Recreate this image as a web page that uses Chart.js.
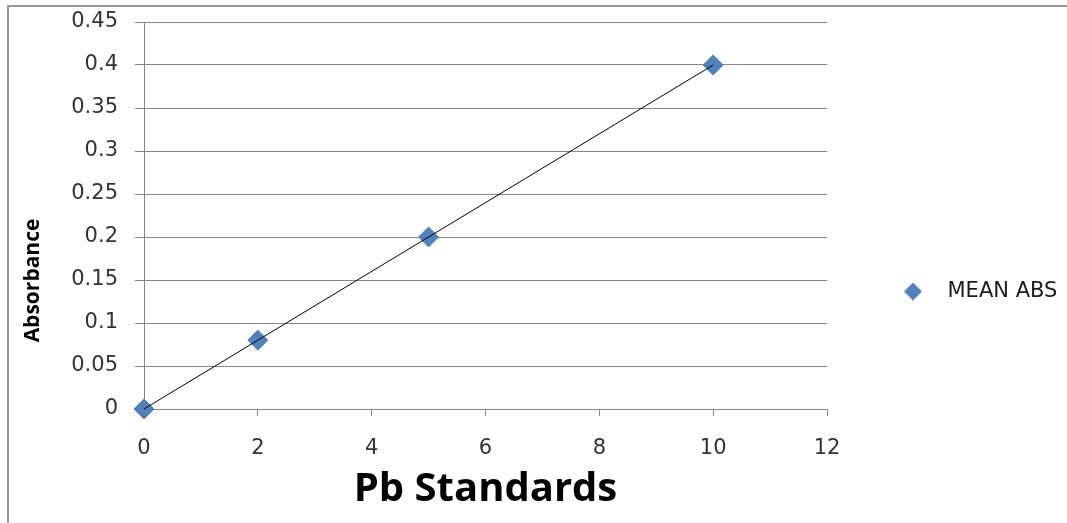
<!DOCTYPE html>
<html><head><meta charset="utf-8">
<script src="https://cdn.jsdelivr.net/npm/chart.js@4.4.1/dist/chart.umd.min.js"></script>
<style>
html,body{margin:0;padding:0;background:#fff;overflow:hidden;}
#wrap{position:relative;width:1067px;height:523px;}
#frame{position:absolute;left:7px;top:5px;width:1100px;height:600px;border:2px solid #9a9a9a;pointer-events:none;box-sizing:border-box;}
canvas{position:absolute;left:0;top:0;}
</style></head><body>
<div id="wrap"><canvas id="c" width="1067" height="523"></canvas><div id="frame"></div></div>
<script>
const pbStandards = [0, 2, 5, 10];
const meanAbs = [0, 0.08, 0.2, 0.4];
const seriesName = 'MEAN ABS';
const xTickLabels = ['0', '2', '4', '6', '8', '10', '12'];
const yTickLabels = ['0', '0.05', '0.1', '0.15', '0.2', '0.25', '0.3', '0.35', '0.4', '0.45'];
const xTitle = 'Pb Standards';
const yTitle = 'Absorbance';

// linear trendline (least squares) derived from the series
const n = pbStandards.length;
const sx = pbStandards.reduce((a, v) => a + v, 0);
const sy = meanAbs.reduce((a, v) => a + v, 0);
const sxx = pbStandards.reduce((a, v) => a + v * v, 0);
const sxy = pbStandards.reduce((a, v, i) => a + v * meanAbs[i], 0);
const slope = (n * sxy - sx * sy) / (n * sxx - sx * sx);
const intercept = (sy - slope * sx) / n;
const xMin = Math.min(...pbStandards), xMax = Math.max(...pbStandards);
const trend = [xMin, xMax].map(x => ({x: x, y: slope * x + intercept}));

const points = pbStandards.map((x, i) => ({x: x, y: meanAbs[i]}));

const markerColor = '#4F81BD';
const gridGray = '#878787';
const tickFont = "'DejaVu Sans', sans-serif";
Chart.defaults.font.family = "'Open Sans', sans-serif";

// legend symbol: same diamond as the series marker
function diamondSymbol(size, color) {
  const cv = document.createElement('canvas');
  cv.width = size; cv.height = size;
  const g = cv.getContext('2d');
  g.fillStyle = color;
  g.beginPath();
  g.moveTo(size / 2, 0); g.lineTo(size, size / 2); g.lineTo(size / 2, size); g.lineTo(0, size / 2);
  g.closePath(); g.fill();
  return cv;
}
const legendSymbol = diamondSymbol(18, markerColor);

// give the right-hand legend a fixed box width (the layout otherwise caps it)
const legendBoxWidth = 240;
const legendWidthPlugin = {
  id: 'legendWidth',
  beforeLayout(chart) {
    const lg = chart.legend;
    if (lg && !lg._fixedWidth) {
      const fit = lg.fit.bind(lg);
      lg.fit = function () { fit(); this.width = legendBoxWidth; };
      lg._fixedWidth = true;
    }
  }
};

new Chart(document.getElementById('c'), {
  type: 'scatter',
  data: {
    datasets: [
      {
        label: seriesName,
        data: points,
        pointStyle: 'rectRot',
        pointRadius: 10,
        pointHoverRadius: 10,
        backgroundColor: markerColor,
        borderColor: markerColor,
        borderWidth: 1,
        clip: false,
        order: 1
      },
      {
        label: 'trend',
        type: 'line',
        data: trend,
        borderColor: '#000000',
        borderWidth: 1,
        pointRadius: 0,
        fill: false,
        clip: false,
        order: 0
      }
    ]
  },
  plugins: [legendWidthPlugin],
  options: {
    responsive: false,
    animation: false,
    layout: {padding: {left: 8, top: 22, right: 0, bottom: -16}},
    plugins: {
      tooltip: {enabled: false},
      title: {
        display: true,
        text: yTitle,
        position: 'left',
        color: '#000000',
        font: {size: 21, weight: 'bold'},
        padding: {top: 12, bottom: 2.8}
      },
      legend: {
        position: 'right',
        align: 'center',
        title: {display: true, text: '', font: {size: 10}, padding: 5},
        labels: {
          usePointStyle: true,
          pointStyleWidth: 48,
          boxHeight: 13,
          padding: 62,
          color: '#1a1a1a',
          font: {size: 21, family: tickFont},
          filter: item => item.datasetIndex === 0,
          generateLabels: c => Chart.defaults.plugins.legend.labels.generateLabels(c)
            .map(it => Object.assign(it, {pointStyle: legendSymbol}))
        }
      }
    },
    scales: {
      x: {
        type: 'linear',
        min: 0,
        max: 12,
        afterFit: s => { s.height = 130; },
        ticks: {
          stepSize: 2,
          padding: 20,
          color: '#333333',
          font: {size: 21, family: tickFont},
          callback: (v, i) => xTickLabels[i]
        },
        grid: {drawOnChartArea: false, drawTicks: true, tickLength: 7, color: gridGray},
        border: {color: gridGray},
        title: {
          display: true,
          text: xTitle,
          color: '#000000',
          font: {size: 40, weight: 'bold'},
          padding: {top: 0, bottom: 25}
        }
      },
      y: {
        type: 'linear',
        min: 0,
        max: 0.45,
        afterFit: s => { s.width = 96; s.paddingTop = 12; s.paddingBottom = 12; },
        ticks: {
          stepSize: 0.05,
          padding: 17,
          color: '#333333',
          font: {size: 21, family: tickFont},
          callback: (v, i) => yTickLabels[i]
        },
        grid: {drawTicks: true, tickLength: 9, color: gridGray},
        border: {color: gridGray}
      }
    }
  }
});
</script>
</body></html>
